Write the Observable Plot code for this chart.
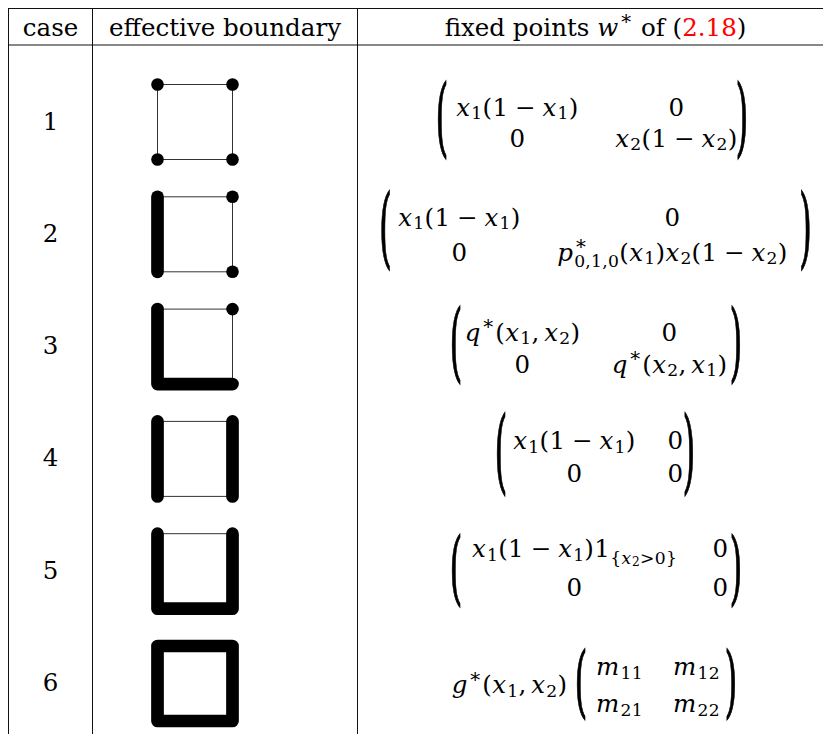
<!DOCTYPE html>
<html><head><meta charset="utf-8">
<script src="https://cdn.jsdelivr.net/npm/d3@7"></script>
<script src="https://cdn.jsdelivr.net/npm/@observablehq/plot@0.6"></script>
<style>
html,body{margin:0;padding:0;background:#fff;overflow:hidden}
svg{display:block}
svg text, svg tspan{font-family:"DejaVu Serif","Liberation Serif",serif}
</style></head><body>
<script>
// ---------- data ----------
const cases = ["1", "2", "3", "4", "5", "6"];
const headers = ["case", "effective boundary", "fixed points $w^∗$ of (~2.18~)"];
// thick (effective) boundary pieces of the unit square, as corner sequences
const thickPaths = [
  [],
  [["tl", "bl"]],
  [["tl", "bl", "br"]],
  [["tl", "bl"], ["tr", "br"]],
  [["tl", "bl", "br", "tr"]],
  [["tl", "bl", "br", "tr", "tl"]]
];
const dotCorners = [["tl", "tr", "bl", "br"], ["tr", "br"], ["tr"], [], [], []];
const prefixes = ["", "", "", "", "", "g^∗(x_1,\u2006x_2)"];
const entries = [
  ["x_1(1\u2005−\u2005x_1)", "0", "0", "x_2(1\u2005−\u2005x_2)"],
  ["x_1(1\u2005−\u2005x_1)", "0", "0", "p^∗_{0,1,0}(x_1)x_2(1\u2005−\u2005x_2)"],
  ["q^∗(x_1,\u2006x_2)", "0", "0", "q^∗(x_2,\u2006x_1)"],
  ["x_1(1\u2005−\u2005x_1)", "0", "0", "0"],
  ["x_1(1\u2005−\u2005x_1)1_{\\{x_2>0\\}}", "0", "0", "0"],
  ["m_{11}", "m_{12}", "m_{21}", "m_{22}"]
];

// ---------- layout ----------
const W = 823, H = 734, FS = 29;
const ruleXs = [8, 92, 357], ruleYs = [8, 44.5];
const headerX = [50, 224.5, 595], headerBase = 35;
const row0 = 121.5, rowStep = 112.3;
const rc = i => row0 + i * rowStep;
const caseX = 50, caseDy = 7.5;
const sq = {l: 157, r: 232, h: 37.5};
const mat = [
  {c1: 517, c2: 676, r1: -6.5, r2: 24.5, pl: 441.5, pr: 741.5, pt: -41.5, pb: 35.5},
  {c1: 459, c2: 672, r1: -8.8, r2: 26.2, pl: 385, pr: 805, pt: -43.8, pb: 34.2},
  {c1: 522, c2: 669, r1: -6.1, r2: 25.9, pl: 455.5, pr: 735.5, pt: -41.1, pb: 35.9},
  {c1: 574, c2: 675, r1: -9.5, r2: 23, pl: 500.5, pr: 688.5, pt: -46, pb: 35.5},
  {c1: 574, c2: 720, r1: -13.8, r2: 25.2, pl: 455.5, pr: 735.5, pt: -37.8, pb: 34.2},
  {c1: 619, c2: 696, r1: -8.1, r2: 28.6, pl: 580.5, pr: 730.5, pt: -35.1, pb: 34.9, px: 509, py: 9.9}
];

const corner = (i, c) => ({x: c[1] === "l" ? sq.l : sq.r, y: rc(i) + (c[0] === "t" ? -sq.h : sq.h)});
const thinData = cases.flatMap((k, i) => ["tl", "tr", "br", "bl", "tl"].map(c => ({...corner(i, c), z: k})));
const thickData = cases.flatMap((k, i) => thickPaths[i].flatMap((p, j) => p.map(c => ({...corner(i, c), z: k + "-" + j}))));
const dotData = cases.flatMap((k, i) => dotCorners[i].map(c => corner(i, c)));
const cellData = cases.flatMap((k, i) => entries[i].map((e, j) => ({
  text: "$" + e + "$", x: j % 2 ? mat[i].c2 : mat[i].c1, y: rc(i) + (j < 2 ? mat[i].r1 : mat[i].r2)
})));
const prefixData = cases.flatMap((k, i) => prefixes[i] ? [{text: "$" + prefixes[i] + "$", x: mat[i].px, y: rc(i) + mat[i].py}] : []);
const parenData = cases.flatMap((k, i) => {
  const m = mat[i], top = rc(i) + m.pt, bot = rc(i) + m.pb;
  return [{g: "(", x: m.pl, y: bot, top, bot}, {g: ")", x: m.pr, y: bot, top, bot}];
});

const chart = Plot.plot({
  width: W, height: H, margin: 0,
  x: {domain: [0, W], range: [0, W], axis: null},
  y: {domain: [0, H], range: [0, H], axis: null},
  style: {fontSize: FS + "px", background: "white", color: "black"},
  marks: [
    Plot.ruleX(ruleXs, {x: d => d, y1: ruleYs[0], y2: H, stroke: "#111", strokeWidth: 1}),
    Plot.ruleY(ruleYs, {y: d => d, x1: ruleXs[0], x2: W, stroke: "#111", strokeWidth: 1}),
    Plot.line(thinData, {x: "x", y: "y", z: "z", stroke: "#333", strokeWidth: 1}),
    Plot.line(thickData, {x: "x", y: "y", z: "z", stroke: "black", strokeWidth: 12.7, strokeLinecap: "round", strokeLinejoin: "round"}),
    Plot.dot(dotData, {x: "x", y: "y", r: 6.3, fill: "black"}),
    Plot.text(headers, {x: (d, i) => headerX[i], y: headerBase, text: d => d, lineAnchor: "bottom", fontSize: FS, fill: "black"}),
    Plot.text(cases, {x: caseX, y: (d, i) => rc(i) + caseDy, text: d => d, lineAnchor: "bottom", fontSize: FS, fill: "black"}),
    Plot.text(cellData, {x: "x", y: "y", text: "text", lineAnchor: "bottom", fontSize: FS, fill: "black"}),
    Plot.text(prefixData, {x: "x", y: "y", text: "text", lineAnchor: "bottom", fontSize: FS, fill: "black"}),
    Plot.text(parenData, {x: "x", y: "y", text: "g", lineAnchor: "bottom", fontSize: FS, fill: "black"})
  ]
});
document.body.append(chart);

// ---------- adaptive font size: "effective boundary" should be ~232px wide ----------
const probe = document.createElementNS("http://www.w3.org/2000/svg", "text");
probe.setAttribute("font-size", 100);
probe.textContent = "effective boundary";
chart.appendChild(probe);
const w100 = probe.getComputedTextLength() || 800;
probe.remove();
const FSE = Math.max(20, Math.min(30, 232 * 100 / w100));

// ---------- rich text (TeX-like) post-processing ----------
const SIZES = [FSE, FSE * 0.7, FSE * 0.5];
function parseRich(s) {
  let i = 0;
  function atom(ch, st) { return {kind: "ch", ch, italic: st.math && /[a-z]/i.test(ch), math: st.math, red: st.red, level: st.level}; }
  function seq(stop, st) {
    const out = [];
    while (i < s.length) {
      const c = s[i];
      if (stop && c === stop) { i++; break; }
      if (c === "$") { st = {...st, math: !st.math}; i++; continue; }
      if (c === "~") { st = {...st, red: !st.red}; i++; continue; }
      if ((c === "_" || c === "^") && st.math) {
        i++;
        const inner = {...st, level: st.level + 1};
        let items;
        if (s[i] === "{") { i++; items = seq("}", inner); }
        else { items = [atom(s[i], inner)]; i++; }
        out.push({kind: c === "_" ? "sub" : "sup", items, level: st.level});
        continue;
      }
      if (c === "\\") { i++; out.push(atom(s[i], st)); i++; continue; }
      out.push(atom(c, st)); i++;
    }
    return out;
  }
  return seq(null, {math: false, red: false, level: 0});
}
function flatten(items, off, out) {
  let lastSup = null;
  items.forEach(it => {
    if (it.kind === "ch") { out.push({...it, off}); lastSup = null; return; }
    const ps = SIZES[Math.min(it.level, 2)];
    const afterSup = it.kind === "sub" && lastSup;
    const hasBrace = it.items.some(a => a.ch === "{");
    const shift = it.kind === "sup" ? -0.42 * ps : (afterSup || hasBrace ? 0.25 : 0.15) * ps;
    const start = out.length;
    flatten(it.items, off + shift, out);
    if (afterSup && out[start]) out[start].back = lastSup;
    lastSup = it.kind === "sup" ? [start, out.length] : null;
  });
}
function renderRich(t, s) {
  const chars = [];
  flatten(parseRich(s), 0, chars);
  t.textContent = "";
  let cur = 0;
  const nodes = [];
  for (const c of chars) {
    const ts = document.createElementNS("http://www.w3.org/2000/svg", "tspan");
    ts.textContent = c.ch;
    const size = SIZES[Math.min(c.level, 2)] * (c.ch === "∗" ? 1.15 : 1);
    ts.setAttribute("font-size", size);
    if (c.italic) ts.setAttribute("font-style", "italic");
    if (c.red) ts.setAttribute("fill", "#ff0000");
    const dy = c.off - cur;
    if (dy) ts.setAttribute("dy", dy);
    cur = c.off;
    const ls = (c.italic ? 1.2 : c.math ? 0.4 : 0) * size / FSE;
    if (ls) ts.style.letterSpacing = ls + "px";
    t.appendChild(ts);
    nodes.push(ts);
    if (c.back) {
      let w = 0;
      for (let q = c.back[0]; q < c.back[1]; q++) w += nodes[q].getComputedTextLength();
      ts.setAttribute("dx", -w);
    }
  }
}
// glyph extent of a parenthesis (in em, relative to baseline): top 0.76 above, bottom 0.132 below
const PAREN_TOP = 0.76, PAREN_BOT = 0.132;
let pi = 0;
for (const t of Array.from(chart.querySelectorAll("text"))) {
  const s = t.textContent;
  if (s === "(" || s === ")") {
    const p = parenData[pi++];
    t.setAttribute("font-size", FSE);
    t.setAttribute("stroke", "black");
    t.setAttribute("stroke-width", 0.35);
    t.removeAttribute("x"); t.removeAttribute("y");
    const k = (p.bot - p.top) / ((PAREN_TOP + PAREN_BOT) * FSE);
    t.setAttribute("transform", `translate(${p.x},${p.top + PAREN_TOP * FSE * k}) scale(1.35,${k})`);
    continue;
  }
  renderRich(t, s);
}
</script>
</body></html>
